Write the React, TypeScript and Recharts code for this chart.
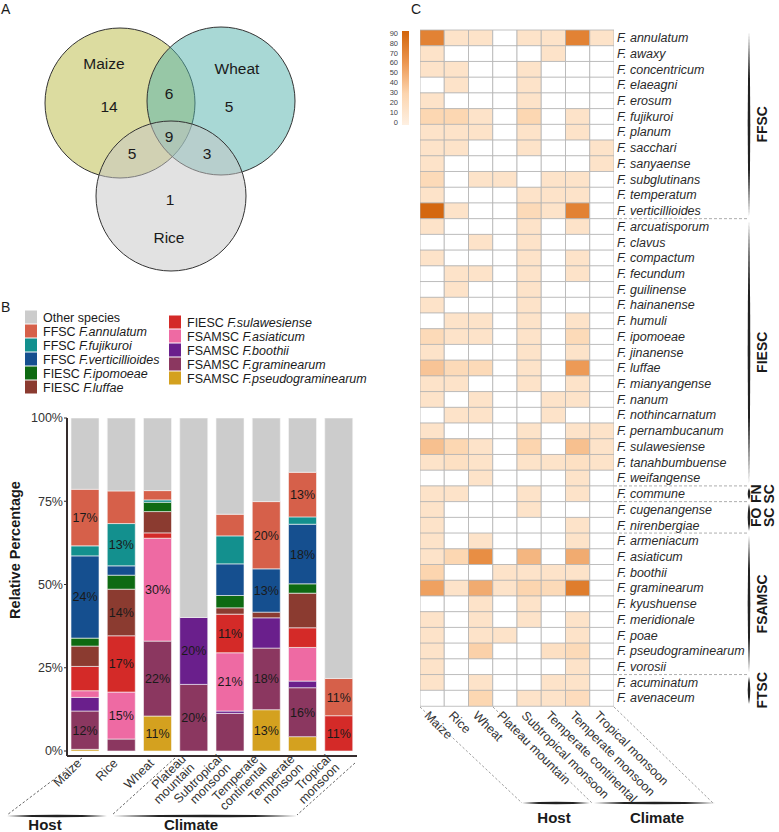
import { Bar, BarChart, Cell, LabelList, Scatter, ScatterChart, XAxis, YAxis } from 'recharts';

const FONT = '"Liberation Sans", Arial, Helvetica, sans-serif';
const INK = '#1a1a1a';

/* ---------------- A: Venn ---------------- */
const vennSets = ['Maize', 'Wheat', 'Rice'];
const vennCenterX = [120, 221, 171];
const vennCenterY = [103, 101, 196];
const vennRadius = [75, 74, 75];
const vennCounts = ['14', '5', '1', '6', '5', '3', '9'];
const vennCountX = [109, 229, 170, 169, 132, 207, 169];
const vennCountY = [106, 106, 199, 93, 153, 153, 136];
const vennNameX = [104, 237, 169];
const vennNameY = [63, 68, 237];
const VENN_FILL = ['rgba(185,185,65,0.5)', 'rgba(81,177,171,0.5)', 'rgba(197,197,197,0.5)'];

/* ---------------- B: stacked composition ---------------- */
const hostClimate = [
  'Maize',
  'Rice',
  'Wheat',
  'Plateau\nmountain',
  'Subtropical\nmonsoon',
  'Temperate\ncontinental',
  'Temperate\nmonsoon',
  'Tropical\nmonsoon',
];
const pctPseudograminearum = [0.5, 0, 10.5, 0, 0, 12.4, 4.3, 0];
const pctGraminearum = [11.5, 3.6, 22.5, 20, 11.3, 18.5, 14.7, 0];
const pctBoothii = [4.1, 0, 0, 20.1, 0.7, 9.1, 2, 0];
const pctAsiaticum = [2, 14.1, 30.9, 0, 17.5, 0, 10.1, 0];
const pctSulawesiense = [7.3, 16.9, 1.6, 0, 11.6, 0, 5.9, 10.6];
const pctLuffae = [6.1, 14, 6.4, 0, 1.9, 1.7, 10.4, 0];
const pctIpomoeae = [2.4, 4.2, 2.8, 0, 3.7, 0, 2.8, 0];
const pctVerticillioides = [24.7, 2.8, 0, 0, 9.5, 13, 17.9, 0];
const pctFujikuroi = [3, 12.7, 0.7, 0, 8.4, 0, 2.2, 0];
const pctAnnulatum = [17, 9.8, 2.8, 0, 6.5, 20.2, 13.4, 11.2];
const pctOther = [21.4, 21.9, 21.8, 59.9, 28.9, 25.1, 16.3, 78.2];

const lblPseudograminearum = ['', '', '11%', '', '', '13%', '', ''];
const lblGraminearum = ['12%', '', '22%', '20%', '', '18%', '16%', ''];
const lblBoothii = ['', '', '', '20%', '', '', '', ''];
const lblAsiaticum = ['', '15%', '30%', '', '21%', '', '', ''];
const lblSulawesiense = ['', '17%', '', '', '11%', '', '', '11%'];
const lblLuffae = ['', '14%', '', '', '', '', '', ''];
const lblVerticillioides = ['24%', '', '', '', '', '13%', '18%', ''];
const lblFujikuroi = ['', '13%', '', '', '', '', '', ''];
const lblAnnulatum = ['17%', '', '', '', '', '20%', '13%', '11%'];
const lblNone = ['', '', '', '', '', '', '', ''];

// bottom -> top stacking order
const stackSeries = [
  { key: 'pseudo', group: 'FSAMSC', sp: 'F.pseudograminearum', color: '#d4a11f', values: pctPseudograminearum, labels: lblPseudograminearum },
  { key: 'gram', group: 'FSAMSC', sp: 'F.graminearum', color: '#8b3760', values: pctGraminearum, labels: lblGraminearum },
  { key: 'booth', group: 'FSAMSC', sp: 'F.boothii', color: '#6a1f8c', values: pctBoothii, labels: lblBoothii },
  { key: 'asia', group: 'FSAMSC', sp: 'F.asiaticum', color: '#ee6aa3', values: pctAsiaticum, labels: lblAsiaticum },
  { key: 'sula', group: 'FIESC', sp: 'F.sulawesiense', color: '#d42a28', values: pctSulawesiense, labels: lblSulawesiense },
  { key: 'luff', group: 'FIESC', sp: 'F.luffae', color: '#8b3b30', values: pctLuffae, labels: lblLuffae },
  { key: 'ipom', group: 'FIESC', sp: 'F.ipomoeae', color: '#0e6a12', values: pctIpomoeae, labels: lblNone },
  { key: 'vert', group: 'FFSC', sp: 'F.verticillioides', color: '#154f8f', values: pctVerticillioides, labels: lblVerticillioides },
  { key: 'fuji', group: 'FFSC', sp: 'F.fujikuroi', color: '#13908e', values: pctFujikuroi, labels: lblFujikuroi },
  { key: 'annu', group: 'FFSC', sp: 'F.annulatum', color: '#d6604a', values: pctAnnulatum, labels: lblAnnulatum },
  { key: 'other', group: '', sp: 'Other species', color: '#cccccc', values: pctOther, labels: lblNone },
];
const legendCol1 = ['other', 'annu', 'fuji', 'vert', 'ipom', 'luff'];
const legendCol2 = ['sula', 'asia', 'booth', 'gram', 'pseudo'];

/* ---------------- C: heatmap ---------------- */
const species = [
  'F. annulatum', 'F. awaxy', 'F. concentricum', 'F. elaeagni', 'F. erosum', 'F. fujikuroi', 'F. planum',
  'F. sacchari', 'F. sanyaense', 'F. subglutinans', 'F. temperatum', 'F. verticillioides',
  'F. arcuatisporum', 'F. clavus', 'F. compactum', 'F. fecundum', 'F. guilinense', 'F. hainanense', 'F. humuli',
  'F. ipomoeae', 'F. jinanense', 'F. luffae', 'F. mianyangense', 'F. nanum', 'F. nothincarnatum',
  'F. pernambucanum', 'F. sulawesiense', 'F. tanahbumbuense', 'F. weifangense',
  'F. commune',
  'F. cugenangense', 'F. nirenbergiae',
  'F. armeniacum', 'F. asiaticum', 'F. boothii', 'F. graminearum', 'F. kyushuense', 'F. meridionale', 'F. poae',
  'F. pseudograminearum', 'F. vorosii',
  'F. acuminatum', 'F. avenaceum',
];
const complexNames = ['FFSC', 'FIESC', 'FN\nSC', 'FO\nSC', 'FSAMSC', 'FTSC'];
const complexSizes = [12, 17, 1, 2, 9, 2];
const heatColumns = ['Maize', 'Rice', 'Wheat', 'Plateau mountain', 'Subtropical monsoon', 'Temperate continental', 'Temperate monsoon', 'Tropical monsoon'];

const heatMaize = [72, 15, 15, 0, 15, 28, 15, 15, 15, 25, 15, 88, 15, 0, 15, 0, 0, 15, 0, 25, 15, 38, 15, 15, 0, 15, 40, 15, 0, 15, 15, 15, 15, 15, 30, 55, 0, 15, 15, 15, 15, 15, 0];
const heatRice = [15, 0, 15, 15, 0, 28, 15, 15, 0, 0, 0, 15, 0, 0, 0, 15, 15, 0, 15, 15, 0, 25, 15, 0, 15, 0, 28, 18, 0, 15, 0, 0, 0, 28, 0, 15, 0, 0, 0, 0, 0, 0, 0];
const heatWheat = [15, 0, 0, 0, 0, 15, 15, 0, 0, 15, 0, 0, 0, 15, 0, 15, 0, 0, 15, 15, 0, 25, 0, 15, 15, 0, 15, 15, 15, 0, 0, 0, 15, 65, 0, 50, 15, 15, 15, 32, 0, 15, 28];
const heatPlateau = [0, 0, 0, 0, 0, 0, 0, 0, 0, 15, 0, 0, 0, 0, 0, 0, 0, 0, 0, 0, 0, 0, 0, 0, 0, 0, 0, 0, 0, 0, 0, 0, 0, 0, 15, 15, 0, 0, 15, 0, 0, 0, 0];
const heatSubtropical = [15, 0, 15, 15, 15, 28, 15, 15, 0, 0, 15, 25, 15, 15, 15, 15, 15, 15, 15, 15, 15, 15, 15, 0, 0, 15, 30, 15, 0, 15, 15, 0, 0, 45, 15, 30, 15, 15, 0, 0, 0, 0, 15];
const heatTempContinental = [15, 15, 0, 0, 0, 0, 0, 0, 0, 15, 15, 15, 0, 0, 0, 0, 0, 0, 0, 0, 0, 0, 0, 15, 15, 0, 0, 15, 0, 0, 0, 0, 0, 0, 15, 25, 0, 0, 0, 18, 0, 15, 15];
const heatTempMonsoon = [72, 0, 0, 0, 0, 15, 15, 0, 0, 15, 15, 72, 15, 0, 15, 15, 0, 0, 15, 25, 15, 58, 15, 15, 0, 15, 40, 18, 15, 15, 0, 15, 15, 50, 15, 75, 0, 15, 15, 25, 15, 15, 22];
const heatTropical = [15, 0, 0, 0, 0, 0, 0, 15, 15, 0, 0, 0, 0, 0, 0, 0, 0, 0, 0, 0, 0, 0, 0, 0, 0, 15, 15, 15, 0, 0, 0, 0, 0, 0, 0, 0, 0, 0, 0, 0, 0, 0, 0];
const heatValues = [heatMaize, heatRice, heatWheat, heatPlateau, heatSubtropical, heatTempContinental, heatTempMonsoon, heatTropical];
const colorbarTicks = [90, 80, 70, 60, 50, 40, 30, 20, 10, 0];

const RAMP_AT = [0, 30, 60, 90];
const RAMP_RGB = [
  [254, 240, 226],
  [252, 213, 175],
  [236, 150, 80],
  [210, 100, 10],
];
function heatColor(v: number) {
  if (v <= 0) return '#ffffff';
  let k = 0;
  while (k < RAMP_AT.length - 2 && v > RAMP_AT[k + 1]) k++;
  const t = Math.min(1, (v - RAMP_AT[k]) / (RAMP_AT[k + 1] - RAMP_AT[k]));
  const c = RAMP_RGB[k].map((a, i) => Math.round(a + (RAMP_RGB[k + 1][i] - a) * t));
  return `rgb(${c[0]},${c[1]},${c[2]})`;
}

// heatmap plot geometry (used for side annotations)
const HM_LEFT = 420;
const HM_RIGHT = 614;
const HM_TOP = 30;
const HM_H = 676;
const ROW_H = HM_H / species.length;

function hLens(x1: number, x2: number, y: number, t = 1.3) {
  const m = (x1 + x2) / 2;
  return `M${x1},${y} Q${m},${y - 2 * t} ${x2},${y} Q${m},${y + 2 * t} ${x1},${y} Z`;
}
function vLens(x: number, y1: number, y2: number, t = 1.3) {
  const m = (y1 + y2) / 2;
  return `M${x},${y1} Q${x + 2 * t},${m} ${x},${y2} Q${x - 2 * t},${m} ${x},${y1} Z`;
}

function Venn() {
  const circles = vennSets.map((name, i) => ({ name, x: vennCenterX[i], y: vennCenterY[i], r: vennRadius[i], i }));
  const texts = [
    ...vennSets.map((t, i) => ({ t, x: vennNameX[i], y: vennNameY[i] })),
    ...vennCounts.map((t, i) => ({ t, x: vennCountX[i], y: vennCountY[i] })),
  ];
  return (
    <ScatterChart width={300} height={290} margin={{ top: 0, right: 0, bottom: 0, left: 0 }}>
      <XAxis type="number" dataKey="x" domain={[0, 300]} hide />
      <YAxis type="number" dataKey="y" domain={[0, 290]} reversed hide />
      <Scatter
        data={circles}
        isAnimationActive={false}
        shape={(p: any) => (
          <circle cx={p.cx} cy={p.cy} r={p.payload.r} fill={VENN_FILL[p.payload.i]} stroke="#333" strokeWidth={1} />
        )}
      />
      <Scatter
        data={texts}
        isAnimationActive={false}
        shape={(p: any) => (
          <text x={p.cx} y={p.cy} dy="0.36em" textAnchor="middle" fontSize={15.5} fill={INK} fontFamily={FONT}>
            {p.payload.t}
          </text>
        )}
      />
    </ScatterChart>
  );
}

function StackTick({ x, y, payload }: any) {
  const lines = String(payload.value).split('\n');
  return (
    <g transform={`translate(${x - 3},${y + 4}) rotate(-45)`}>
      <text textAnchor="end" fontSize={12.5} fill="#333" fontFamily={FONT}>
        {lines.map((l, i) => (
          <tspan key={i} x={0} y={(i - (lines.length - 1) / 2) * 12}>
            {l}
          </tspan>
        ))}
      </text>
    </g>
  );
}

function segLabel(p: any) {
  if (!p.value) return null;
  const vb = p.viewBox || p;
  return (
    <text
      x={vb.x + vb.width / 2}
      y={vb.y + vb.height / 2}
      dy={4.5}
      textAnchor="middle"
      fontSize={12.5}
      fill={INK}
      fontFamily={FONT}
    >
      {p.value}
    </text>
  );
}

function StackChart() {
  const rows = hostClimate.map((name, i) => {
    const r: any = { name };
    stackSeries.forEach((s) => {
      r[s.key] = s.values[i];
      r[`${s.key}Lbl`] = s.labels[i];
    });
    return r;
  });
  return (
    <BarChart width={370} height={542} data={rows} margin={{ top: 128, right: 13, bottom: 0, left: 0 }}>
      <XAxis
        dataKey="name"
        interval={0}
        height={76}
        tickLine={false}
        tickSize={4}
        tickMargin={0}
        axisLine={{ stroke: '#352d2d', strokeWidth: 2 }}
        tick={(p: any) => <StackTick {...p} />}
      />
      <YAxis
        type="number"
        domain={[-1.5, 100]}
        allowDataOverflow
        ticks={[0, 25, 50, 75, 100]}
        tickFormatter={(v: number) => `${v}%`}
        width={67}
        tickSize={3}
        tickMargin={1}
        axisLine={{ stroke: '#352d2d', strokeWidth: 2 }}
        tickLine={{ stroke: '#352d2d' }}
        tick={{ fill: '#333', fontSize: 12.5, fontFamily: FONT }}
        label={{
          content: () => (
            <text
              transform="translate(20,260) rotate(-90)"
              textAnchor="middle"
              fontWeight="bold"
              fontSize={14.5}
              fill={INK}
              fontFamily={FONT}
            >
              Relative Percentage
            </text>
          ),
        }}
      />
      {stackSeries.map((s) => (
        <Bar
          key={s.key}
          dataKey={s.key}
          stackId="comp"
          fill={s.color}
          stroke="#f6f6f6"
          strokeWidth={0.6}
          barSize={28}
          isAnimationActive={false}
        >
          <LabelList dataKey={`${s.key}Lbl`} content={segLabel} />
        </Bar>
      ))}
    </BarChart>
  );
}

function HeatXTick({ x, y, payload }: any) {
  const label = heatColumns[Math.floor(payload.value)];
  return (
    <g transform={`translate(${x - 2},${y}) rotate(45)`}>
      <text x={0} y={9} textAnchor="start" fontSize={12.5} fill="#333" fontFamily={FONT}>
        {label}
      </text>
    </g>
  );
}

function HeatYTick({ x, y, payload }: any) {
  return (
    <text x={x} y={y} dy={4.3} textAnchor="start" fontStyle="italic" fontSize={12.5} fill="#2a2a2a" fontFamily={FONT}>
      {payload.value}
    </text>
  );
}

function Heatmap() {
  const rows = species.map((name) => {
    const r: any = { name };
    heatColumns.forEach((_, j) => {
      r[`c${j}`] = 1;
    });
    return r;
  });
  return (
    <BarChart
      layout="vertical"
      width={359}
      height={832}
      data={rows}
      margin={{ top: HM_TOP, right: 25, bottom: 26, left: 0 }}
      barCategoryGap={0}
    >
      <XAxis
        type="number"
        domain={[0, heatColumns.length]}
        allowDataOverflow
        ticks={heatColumns.map((_, j) => j + 0.5)}
        interval={0}
        height={100}
        axisLine={false}
        tickLine={false}
        tickSize={0}
        tickMargin={4}
        tick={(p: any) => <HeatXTick {...p} />}
      />
      <YAxis
        type="category"
        dataKey="name"
        orientation="right"
        width={140}
        interval={0}
        axisLine={false}
        tickLine={false}
        tickSize={0}
        tickMargin={3}
        tick={(p: any) => <HeatYTick {...p} />}
      />
      {heatValues.map((col, j) => (
        <Bar key={j} dataKey={`c${j}`} stackId="heat" isAnimationActive={false}>
          {col.map((v, i) => (
            <Cell key={i} fill={heatColor(v)} stroke="#b3b3b3" strokeWidth={0.8} />
          ))}
        </Bar>
      ))}
    </BarChart>
  );
}

function Annotations() {
  const byKey: any = {};
  stackSeries.forEach((s) => (byKey[s.key] = s));
  const legendItem = (key: string, x: number, cy: number) => {
    const s = byKey[key];
    return (
      <g key={key}>
        <rect x={x} y={cy - 6.5} width={12} height={13} fill={s.color} />
        <text x={x + 18} y={cy + 4.5} fontSize={12.5} fill={INK}>
          {s.group ? (
            <>
              {s.group + ' '}
              <tspan fontStyle="italic">{s.sp}</tspan>
            </>
          ) : (
            s.sp
          )}
        </text>
      </g>
    );
  };

  let start = 0;
  const groups = complexNames.map((name, gi) => {
    const y1 = HM_TOP + start * ROW_H;
    start += complexSizes[gi];
    const y2 = HM_TOP + start * ROW_H;
    return { name, y1, y2, gi };
  });

  return (
    <svg
      width={779}
      height={832}
      style={{ position: 'absolute', left: 0, top: 0, pointerEvents: 'none' }}
      fontFamily={FONT}
    >
      <defs>
        <linearGradient id="cbar" x1="0" y1="0" x2="0" y2="1">
          <stop offset="0" stopColor={heatColor(90)} />
          <stop offset={1 / 3} stopColor={heatColor(60)} />
          <stop offset={2 / 3} stopColor={heatColor(30)} />
          <stop offset="1" stopColor={heatColor(0.01)} />
        </linearGradient>
      </defs>

      {/* panel letters */}
      <text x={1} y={14} fontSize={14} fill={INK}>A</text>
      <text x={1} y={312} fontSize={14} fill={INK}>B</text>
      <text x={411} y={14} fontSize={14} fill={INK}>C</text>

      {/* B legend */}
      {legendCol1.map((k, i) => legendItem(k, 25, 317 + i * 14))}
      {legendCol2.map((k, i) => legendItem(k, 169, 322 + i * 14))}

      {/* B host / climate brackets */}
      <g stroke="#555" strokeWidth={0.9} strokeDasharray="2.5,2">
        <line x1={82} y1={758} x2={7} y2={815} />
        <line x1={175} y1={758} x2={112} y2={815} />
        <line x1={355} y1={763} x2={297} y2={815} />
      </g>
      <path d={hLens(7, 107, 816)} fill="#222" />
      <path d={hLens(113, 297, 816)} fill="#222" />
      <text x={45} y={830} textAnchor="middle" fontWeight="bold" fontSize={15} fill={INK}>Host</text>
      <text x={191} y={830} textAnchor="middle" fontWeight="bold" fontSize={15} fill={INK}>Climate</text>

      {/* C colour bar */}
      <rect x={402} y={31} width={7} height={94} fill="url(#cbar)" />
      {colorbarTicks.map((v) => (
        <text key={v} x={398} y={33 + (90 - v) * (89 / 90)} dy={2.8} textAnchor="end" fontSize={7.5} fill="#444">
          {v}
        </text>
      ))}

      {/* C species complexes */}
      {groups.map((g) => {
        const lines = g.name.split('\n');
        return (
          <g key={g.name}>
            <path d={vLens(749, g.y1 + 2, g.y2 - 2)} fill="#222" />
            {g.gi < groups.length - 1 && (
              <line x1={HM_RIGHT} x2={748} y1={g.y2} y2={g.y2} stroke="#999" strokeWidth={0.8} strokeDasharray="3,2" />
            )}
            <text
              transform={`translate(762,${(g.y1 + g.y2) / 2}) rotate(-90)`}
              textAnchor="middle"
              fontWeight="bold"
              fontSize={14}
              fill={INK}
            >
              {lines.map((l, i) => (
                <tspan key={i} x={0} y={(i - (lines.length - 1) / 2) * 13 + 5}>
                  {l}
                </tspan>
              ))}
            </text>
          </g>
        );
      })}

      {/* C host / climate brackets */}
      <g stroke="#888" strokeWidth={0.8} strokeDasharray="2.5,2">
        <line x1={HM_LEFT} y1={707} x2={522} y2={803} />
        <line x1={493} y1={707} x2={592} y2={803} />
        <line x1={HM_RIGHT} y1={707} x2={713} y2={803} />
      </g>
      <path d={hLens(522, 590, 803)} fill="#222" />
      <path d={hLens(594, 715, 803)} fill="#222" />
      <text x={554} y={823} textAnchor="middle" fontWeight="bold" fontSize={15} fill={INK}>Host</text>
      <text x={657} y={823} textAnchor="middle" fontWeight="bold" fontSize={15} fill={INK}>Climate</text>
    </svg>
  );
}

export default function App() {
  return (
    <div
      style={{
        position: 'absolute',
        left: 0,
        top: 0,
        width: 779,
        height: 832,
        background: '#fff',
        overflow: 'hidden',
        fontFamily: FONT,
      }}
    >
      <div style={{ position: 'absolute', left: 0, top: 0 }}>
        <Venn />
      </div>
      <div style={{ position: 'absolute', left: 0, top: 290 }}>
        <StackChart />
      </div>
      <div style={{ position: 'absolute', left: HM_LEFT, top: 0 }}>
        <Heatmap />
      </div>
      <Annotations />
    </div>
  );
}
